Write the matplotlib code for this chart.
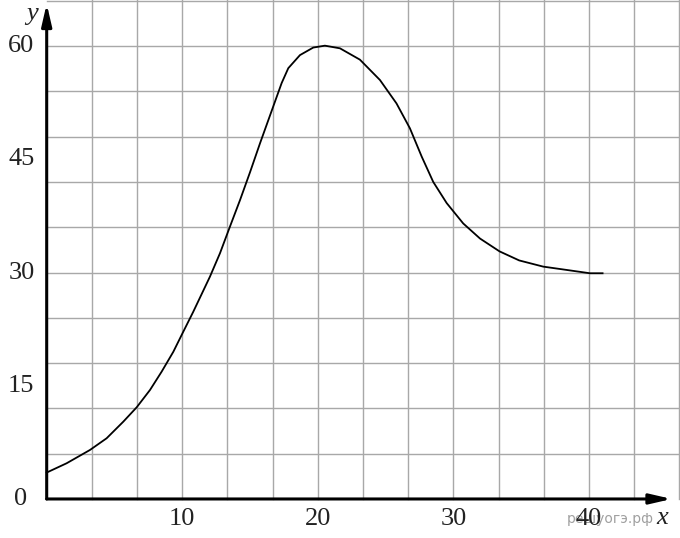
import matplotlib
matplotlib.use("Agg")
import matplotlib.pyplot as plt

# Curve points
x_vals = [0.0, 1.47, 3.19, 4.42, 5.65, 6.64, 7.62, 8.48, 9.34, 10.03, 10.81, 12.04,
          12.78, 13.52, 14.26, 15.0, 15.73, 16.71, 17.33, 17.82, 18.68, 19.66, 20.52,
          21.63, 23.1, 24.58, 25.8, 26.79, 27.66, 28.51, 29.5, 30.72, 31.96, 33.4,
          34.85, 36.62, 38.35, 40.07, 41.0]
y_vals = [3.5, 4.73, 6.49, 8.04, 10.24, 12.15, 14.44, 16.87, 19.5, 22.0, 24.8, 29.45,
          32.55, 36.1, 39.6, 43.3, 47.1, 52.0, 55.1, 57.07, 58.8, 59.8, 60.05,
          59.7, 58.2, 55.5, 52.4, 49.1, 45.35, 42.0, 39.2, 36.5, 34.5, 32.8,
          31.6, 30.78, 30.34, 29.9, 29.9]

x_ticks = [10, 20, 30, 40]
y_ticks = [0, 15, 30, 45, 60]
x_grid_step = 10 / 3
y_grid_step = 6

fig = plt.figure(figsize=(6.8, 5.38), dpi=100)
ax = fig.add_axes([0, 0, 1, 1])
ax.set_xlim(-3.444, 46.71)
ax.set_ylim(-5.17, 66.1)
ax.axis("off")

grid_c = "#a8a8a8"
for k in range(1, 15):
    ax.plot([k * x_grid_step] * 2, [0, 67], color=grid_c, lw=1.0, zorder=1)
for k in range(1, 12):
    ax.plot([0, 47], [k * y_grid_step] * 2, color=grid_c, lw=1.0, zorder=1)

ax.plot(x_vals, y_vals, color="black", lw=1.3, zorder=3, solid_joinstyle="round")

arrow = dict(arrowstyle="-|>,head_length=1.3,head_width=0.3", lw=2.2, color="black",
             shrinkA=0, shrinkB=0)
ax.annotate("", xy=(46.1, 0), xytext=(0, 0), arrowprops=arrow, zorder=4)
ax.annotate("", xy=(0, 65.6), xytext=(0, 0), arrowprops=arrow, zorder=4)

font = dict(family="Liberation Serif", fontsize=19, color="#222222")
for t in x_ticks:
    ax.text(t, -2.7, str(t), ha="center", va="center", **font)
for t in y_ticks:
    if t == 0:
        ax.text(-1.9, t, "0", ha="center", va="center", **font)
    else:
        ax.text(-0.9, t, str(t), ha="right", va="center", **font)

ax.text(-1.1, 64.2, "y", ha="center", va="center", style="italic", **font)
ax.text(45.4, -2.5, "x", ha="center", va="center", style="italic", **font)
ax.text(41.6, -2.6, "решуогэ.рф", ha="center", va="center", fontsize=10,
        family="DejaVu Sans", color="#a0a0a0", zorder=0)

fig.savefig("out.png", dpi=100)
